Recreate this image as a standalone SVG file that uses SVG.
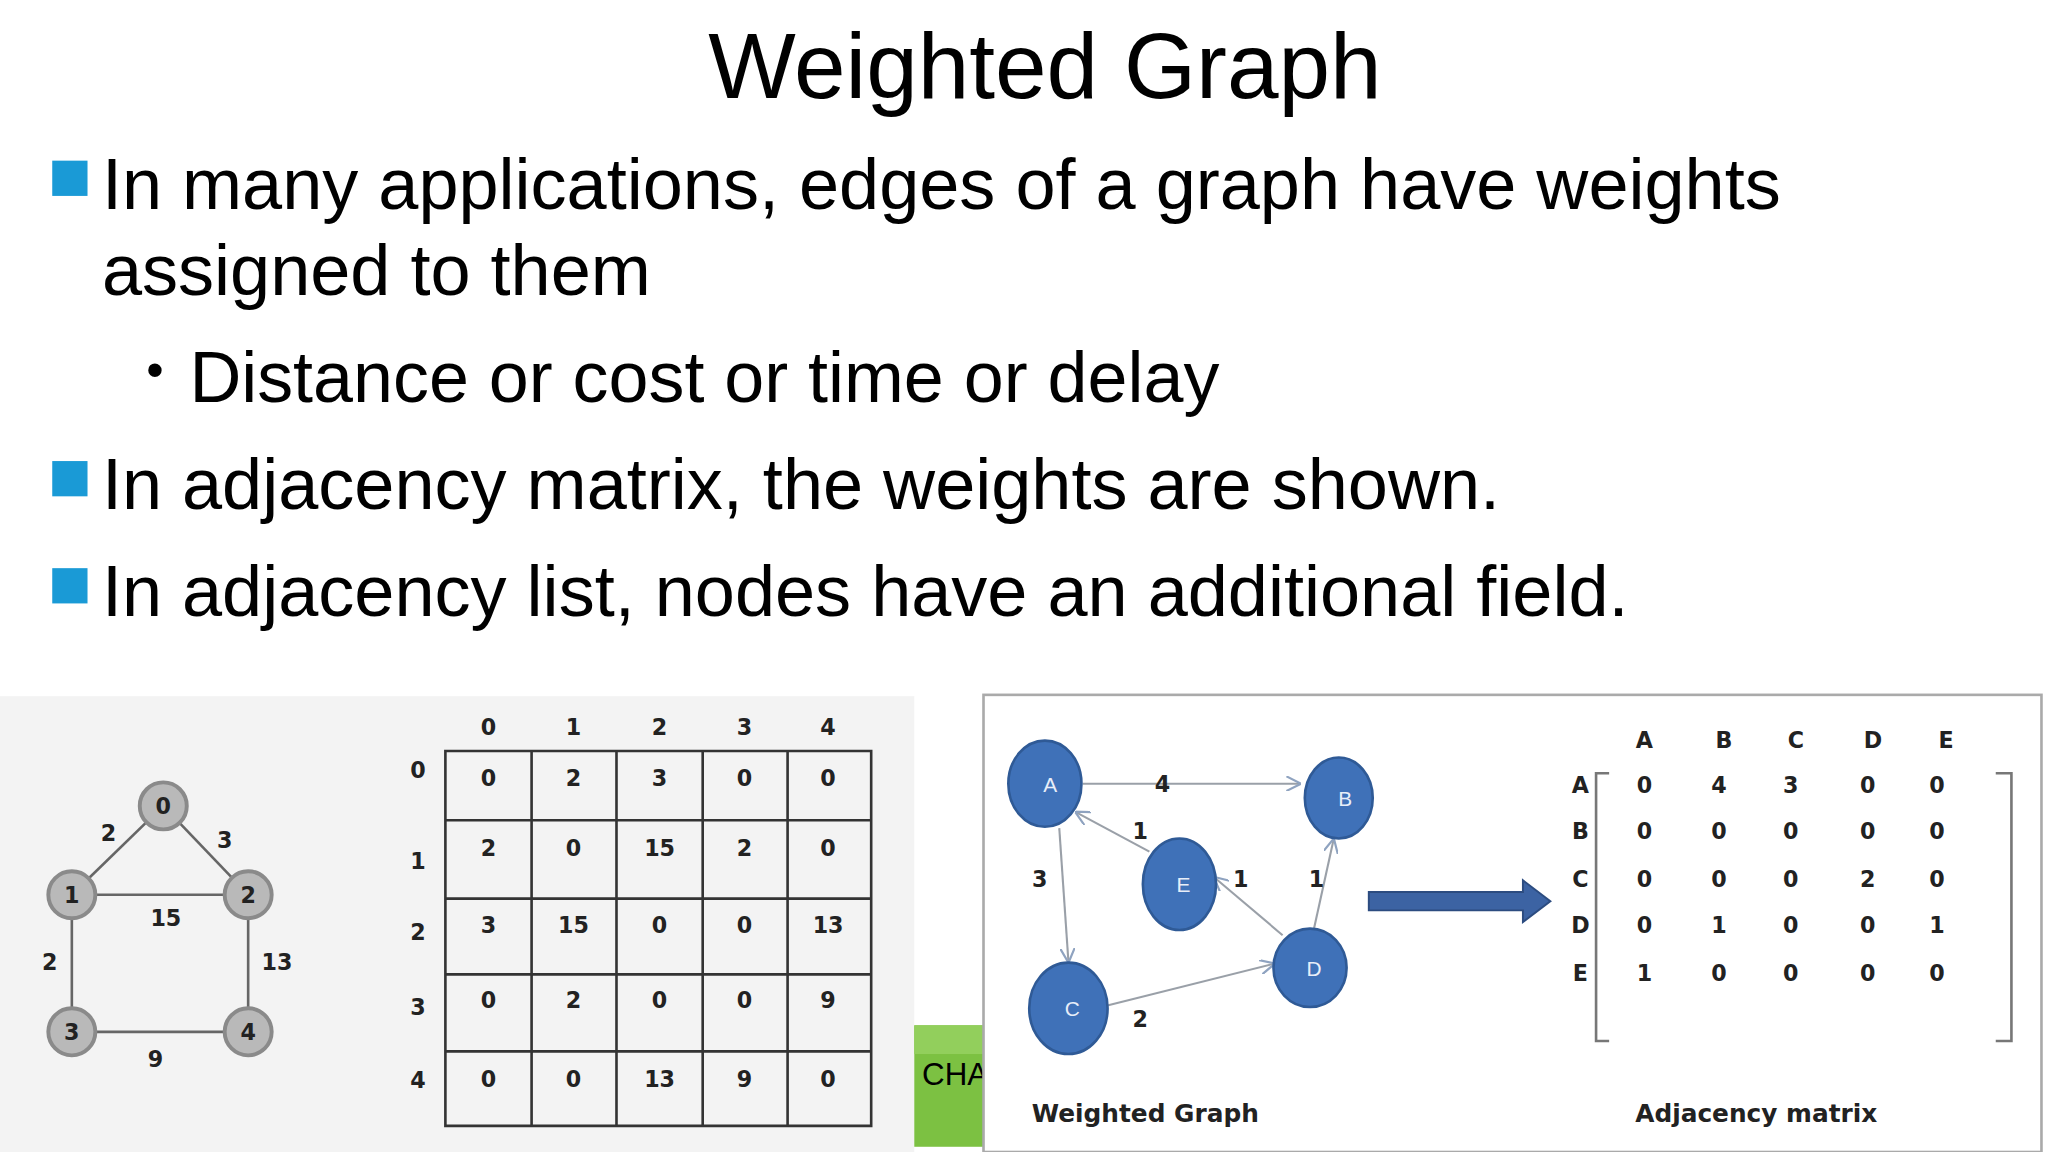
<svg xmlns="http://www.w3.org/2000/svg" width="2048" height="1152" viewBox="0 0 2048 1152">
<defs>
<style>
.t{font-family:"Liberation Sans",Arial,sans-serif;fill:#000}
.n{font-family:"DejaVu Sans",sans-serif;font-weight:bold;font-size:17px;fill:#222;text-anchor:middle}
.g{fill:#b9b9b9;stroke:#8a8a8a;stroke-width:3}
.gl{fill:#222;font-family:"DejaVu Sans",sans-serif;font-weight:bold;font-size:17px;text-anchor:middle}
.b{fill:#3f71b8;stroke:#2f5a96;stroke-width:2}
.bl{fill:#e8eef8;font-family:"Liberation Sans",sans-serif;font-size:16px;text-anchor:middle}
.e{stroke:#9aa0a8;stroke-width:1.6;fill:none;marker-end:url(#ah)}
.grid{stroke:#333;stroke-width:2;fill:none}
.cap{font-family:"DejaVu Sans",sans-serif;font-weight:bold;font-size:19px;fill:#222}
</style>
<marker id="ah" viewBox="0 0 10 10" refX="9" refY="5" markerWidth="7" markerHeight="7" orient="auto"><path d="M0,0 L10,5 L0,10" fill="none" stroke="#8fa3c0" stroke-width="1.5"/></marker>
</defs>
<rect width="2048" height="1152" fill="#fff"/>
<g transform="scale(1.30612)">
<g id="text">
<text class="t" x="800" y="75" font-size="71" text-anchor="middle">Weighted Graph</text>
<rect x="40" y="123" width="27" height="27" fill="#1a9ad6"/>
<text class="t" x="78" y="160" font-size="55.2">In many applications, edges of a graph have weights</text>
<text class="t" x="78" y="226" font-size="55.2">assigned to them</text>
<text class="t" x="112" y="296" font-size="38">•</text>
<text class="t" x="145" y="308" font-size="55">Distance or cost or time or delay</text>
<rect x="40" y="353" width="27" height="27" fill="#1a9ad6"/>
<text class="t" x="78" y="390" font-size="55.2">In adjacency matrix, the weights are shown.</text>
<rect x="40" y="435" width="27" height="27" fill="#1a9ad6"/>
<text class="t" x="78" y="472" font-size="55.2">In adjacency list, nodes have an additional field.</text>
</g>
<g id="left-panel">
<rect x="0" y="533" width="700" height="349" fill="#f3f3f3"/>
<g id="undirected-edges" stroke="#666" stroke-width="2">
<line x1="125" y1="617" x2="55" y2="685"/><line x1="125" y1="617" x2="190" y2="685"/>
<line x1="55" y1="685" x2="190" y2="685"/><line x1="55" y1="685" x2="55" y2="790"/>
<line x1="190" y1="685" x2="190" y2="790"/><line x1="55" y1="790" x2="190" y2="790"/>
</g>
<g id="n0"><circle class="g" cx="125" cy="617" r="18"/><text class="gl" x="125" y="623">0</text></g>
<g id="n1"><circle class="g" cx="55" cy="685" r="18"/><text class="gl" x="55" y="691">1</text></g>
<g id="n2"><circle class="g" cx="190" cy="685" r="18"/><text class="gl" x="190" y="691">2</text></g>
<g id="n3"><circle class="g" cx="55" cy="790" r="18"/><text class="gl" x="55" y="796">3</text></g>
<g id="n4"><circle class="g" cx="190" cy="790" r="18"/><text class="gl" x="190" y="796">4</text></g>
<g class="n"><text x="83" y="644">2</text><text x="172" y="649">3</text><text x="127" y="709">15</text><text x="38" y="743">2</text><text x="212" y="743">13</text><text x="119" y="817">9</text></g>
<g id="matrix1">
<path class="grid" d="M341,575H667V862H341Z M407,575V862 M472,575V862 M538,575V862 M603,575V862 M341,628H667 M341,688H667 M341,746H667 M341,805H667"/>
<g class="n"><text x="374" y="563">0</text><text x="439" y="563">1</text><text x="505" y="563">2</text><text x="570" y="563">3</text><text x="634" y="563">4</text>
<text x="320" y="596">0</text><text x="320" y="665">1</text><text x="320" y="720">2</text><text x="320" y="777">3</text><text x="320" y="833">4</text>
<text x="374" y="602">0</text><text x="439" y="602">2</text><text x="505" y="602">3</text><text x="570" y="602">0</text><text x="634" y="602">0</text>
<text x="374" y="655">2</text><text x="439" y="655">0</text><text x="505" y="655">15</text><text x="570" y="655">2</text><text x="634" y="655">0</text>
<text x="374" y="714">3</text><text x="439" y="714">15</text><text x="505" y="714">0</text><text x="570" y="714">0</text><text x="634" y="714">13</text>
<text x="374" y="772">0</text><text x="439" y="772">2</text><text x="505" y="772">0</text><text x="570" y="772">0</text><text x="634" y="772">9</text>
<text x="374" y="832">0</text><text x="439" y="832">0</text><text x="505" y="832">13</text><text x="570" y="832">9</text><text x="634" y="832">0</text></g>
</g>
</g>
<g id="green">
<rect x="700" y="785" width="53" height="93" fill="#7cc142"/>
<rect x="700" y="785" width="53" height="22" fill="#92cf5c"/>
<text class="t" x="706" y="831" font-size="24">CHA</text>
</g>
<g id="right-panel">
<rect x="753" y="532" width="810" height="350" fill="#fff" stroke="#aaa" stroke-width="2"/>
<g id="connectors">
<line class="e" x1="829" y1="600" x2="995" y2="600"/>
<line class="e" x1="880" y1="652" x2="824" y2="622"/>
<line class="e" x1="811" y1="634" x2="818" y2="736"/>
<line class="e" x1="982" y1="716" x2="930" y2="672"/>
<line class="e" x1="1006" y1="711" x2="1021" y2="643"/>
<line class="e" x1="847" y1="770" x2="975" y2="738"/>
</g>
<g id="A"><ellipse class="b" cx="800" cy="600" rx="28" ry="33"/><text class="bl" x="804" y="606">A</text></g>
<g id="B"><ellipse class="b" cx="1025" cy="611" rx="26" ry="31"/><text class="bl" x="1030" y="617">B</text></g>
<g id="E"><ellipse class="b" cx="903" cy="677" rx="28" ry="35"/><text class="bl" x="906" y="683">E</text></g>
<g id="D"><ellipse class="b" cx="1003" cy="741" rx="28" ry="30"/><text class="bl" x="1006" y="747">D</text></g>
<g id="C"><ellipse class="b" cx="818" cy="772" rx="30" ry="35"/><text class="bl" x="821" y="778">C</text></g>
<g class="n"><text x="890" y="606">4</text><text x="873" y="642">1</text><text x="796" y="679">3</text><text x="950" y="679">1</text><text x="1008" y="679">1</text><text x="873" y="786">2</text></g>
<path id="big-arrow" d="M1048,683 H1166 V674 L1187,690 L1166,706 V697 H1048 Z" fill="#3c63a3" stroke="#2c4c80" stroke-width="1.5"/>
<g id="matrix2">
<path d="M1232,592 H1222 V797 H1232 M1528,592 H1540 V797 H1528" fill="none" stroke="#777" stroke-width="2"/>
<g class="n"><text x="1259" y="573">A</text><text x="1320" y="573">B</text><text x="1375" y="573">C</text><text x="1434" y="573">D</text><text x="1490" y="573">E</text>
<text x="1210" y="607">A</text><text x="1210" y="642">B</text><text x="1210" y="679">C</text><text x="1210" y="714">D</text><text x="1210" y="751">E</text>
<text x="1259" y="607">0</text><text x="1316" y="607">4</text><text x="1371" y="607">3</text><text x="1430" y="607">0</text><text x="1483" y="607">0</text>
<text x="1259" y="642">0</text><text x="1316" y="642">0</text><text x="1371" y="642">0</text><text x="1430" y="642">0</text><text x="1483" y="642">0</text>
<text x="1259" y="679">0</text><text x="1316" y="679">0</text><text x="1371" y="679">0</text><text x="1430" y="679">2</text><text x="1483" y="679">0</text>
<text x="1259" y="714">0</text><text x="1316" y="714">1</text><text x="1371" y="714">0</text><text x="1430" y="714">0</text><text x="1483" y="714">1</text>
<text x="1259" y="751">1</text><text x="1316" y="751">0</text><text x="1371" y="751">0</text><text x="1430" y="751">0</text><text x="1483" y="751">0</text></g>
</g>
<text class="cap" x="790" y="859">Weighted Graph</text>
<text class="cap" x="1252" y="859">Adjacency matrix</text>
</g>
</g>
</svg>
